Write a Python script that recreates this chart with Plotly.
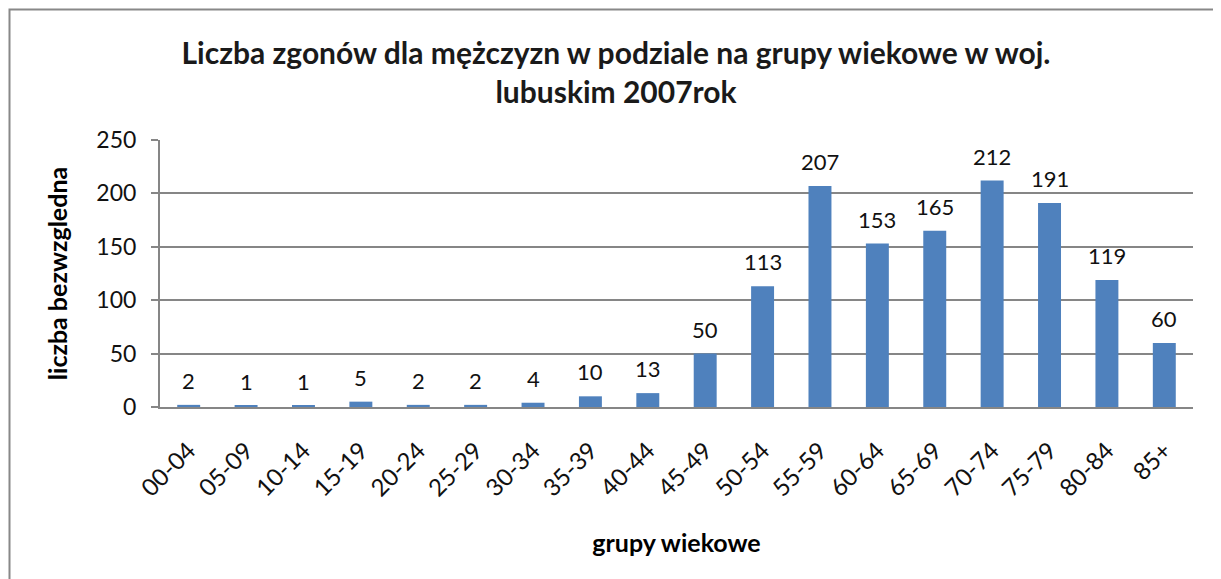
import plotly.graph_objects as go

categories = ["00-04", "05-09", "10-14", "15-19", "20-24", "25-29", "30-34", "35-39", "40-44",
              "45-49", "50-54", "55-59", "60-64", "65-69", "70-74", "75-79", "80-84", "85+"]
values = [2, 1, 1, 5, 2, 2, 4, 10, 13, 50, 113, 207, 153, 165, 212, 191, 119, 60]
y_ticks = [0, 50, 100, 150, 200, 250]

OFF = 8  # default page body margin
W, H = 1221 - OFF, 579 - OFF
# plot area in screen pixels: x 160..1193, y 140..407
L, R, T, B = 160 - OFF, 1221 - 1193, 140 - OFF, 579 - 407
pw, ph = W - L - R, H - T - B

def px_x(p):
    return (p - OFF - L) / pw

def px_y(p):
    return (H - B - (p - OFF)) / ph

FONT = "Lato"

fig = go.Figure()
fig.add_trace(go.Bar(
    x=categories, y=values,
    marker=dict(color="#4F81BD", line=dict(width=0)),
    width=0.4, hoverinfo="skip",
))

labels = [
    dict(x=c, y=v, xref="x", yref="y", text=str(v), showarrow=False,
         yanchor="bottom", yshift=9,
         font=dict(size=22, color="#111111", family=FONT))
    for c, v in zip(categories, values)
]

fig.update_layout(
    width=W, height=H,
    margin=dict(l=L, r=R, t=T, b=B),
    paper_bgcolor="white", plot_bgcolor="white",
    showlegend=False,
    font=dict(family=FONT, color="#000000"),
    title=dict(
        text="<b>Liczba zgonów dla mężczyzn w podziale na grupy wiekowe w woj.<br>lubuskim 2007rok</b>",
        x=(616 - OFF) / W, xref="container", xanchor="center",
        y=1 - (64 - OFF) / H, yref="container", yanchor="top",
        font=dict(size=30, family=FONT, color="#1a1a1a"),
    ),
    xaxis=dict(
        type="category", range=[-0.5, len(categories) - 0.5],
        tickangle=-45, tickfont=dict(size=24, family=FONT, color="#111111"),
        showline=True, linecolor="#868686", linewidth=2,
        ticks="", showgrid=False, ticklabelstandoff=18,
        title=dict(text="<b>grupy wiekowe</b>", font=dict(size=25, family=FONT), standoff=34),
    ),
    yaxis=dict(
        range=[0, 250], tickvals=y_ticks, tickfont=dict(size=23, family=FONT, color="#111111"),
        showline=True, linecolor="#868686", linewidth=2,
        showgrid=True, gridcolor="#868686", gridwidth=1.5,
        ticks="outside", ticklen=7, tickcolor="#868686", tickwidth=1.5,
        zeroline=False, ticklabelstandoff=10,
        title=dict(text="<b>liczba bezwzgledna</b>", font=dict(size=25, family=FONT), standoff=22),
    ),
    annotations=labels,
    shapes=[dict(
        type="rect", xref="paper", yref="paper",
        x0=px_x(9.5), x1=px_x(1219), y0=px_y(600), y1=px_y(9.5),
        line=dict(color="#888888", width=2), fillcolor="rgba(0,0,0,0)", layer="below",
    )],
)

fig.write_html("out.html")
